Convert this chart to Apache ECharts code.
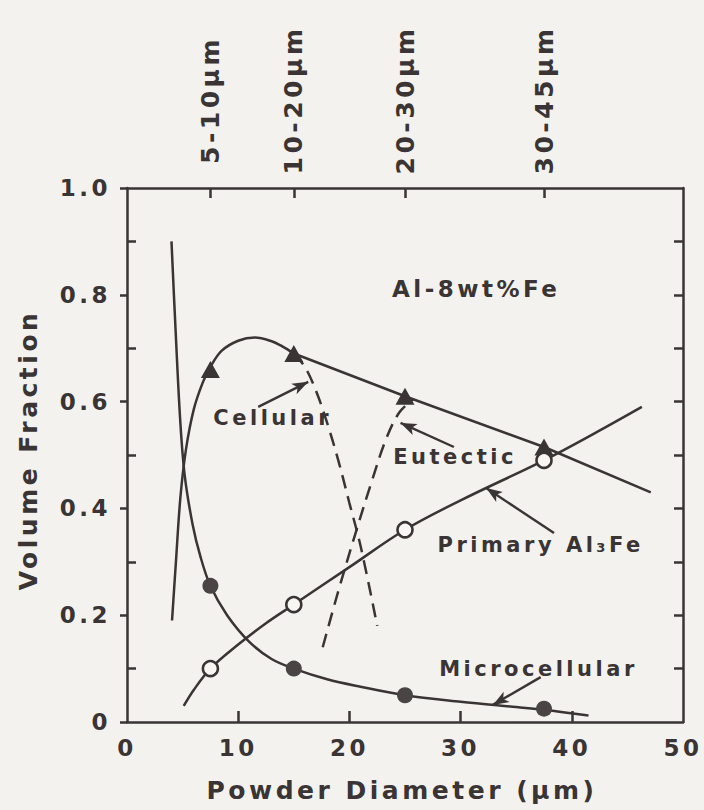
<!DOCTYPE html>
<html>
<head>
<meta charset="utf-8">
<script src="https://cdn.jsdelivr.net/npm/echarts@6/dist/echarts.min.js"></script>
<style>
  html, body { margin: 0; padding: 0; background: #f3f2ee; }
  #chart { width: 704px; height: 810px; }
  /* spaced-out lettering used throughout the figure */
  #chart text { letter-spacing: 3.5px; }
</style>
</head>
<body>
<div id="chart"></div>
<script>
// Powder size classes (top axis), placed at their mean diameter
const sizeClassDiameter = [7.5, 15, 25, 37.5];
const sizeClassLabels = ['5-10µm', '10-20µm', '20-30µm', '30-45µm'];

// Measured volume fractions for each size class
const cellularEutecticTotal = [0.66, 0.69, 0.61, 0.515]; // triangles
const primaryAl3Fe = [0.10, 0.22, 0.36, 0.49];           // open circles
const microcellular = [0.255, 0.10, 0.05, 0.025];        // filled circles

// Trend curves, [diameter µm, volume fraction]
const microCurve = [
  [4.0, 0.90], [4.4, 0.72], [4.8, 0.56], [5.2, 0.46], [5.9, 0.37],
  [6.6, 0.31], [7.5, 0.255], [9, 0.20], [11, 0.15], [13, 0.118],
  [15, 0.10], [18, 0.08], [21, 0.066], [25, 0.05], [30, 0.038],
  [35, 0.028], [37.5, 0.023], [41.5, 0.012]
];
const cellularCurve = [
  [4.05, 0.19], [4.4, 0.30], [4.8, 0.42], [5.3, 0.51], [6.0, 0.585],
  [6.8, 0.635], [7.5, 0.665], [8.5, 0.695], [10, 0.714], [11.5, 0.72],
  [13, 0.713], [14, 0.703], [15, 0.69]
];
const cellularDrop = [
  [15, 0.69], [16, 0.665], [17, 0.62], [18, 0.56], [19, 0.49],
  [20, 0.41], [21, 0.33], [22.5, 0.18]
];
const eutecticRise = [
  [17.6, 0.14], [19, 0.245], [20.5, 0.35], [22, 0.45], [23.3, 0.53],
  [24.5, 0.58], [25.8, 0.605]
];
const primaryCurve = [
  [5.1, 0.03], [6, 0.06], [7.5, 0.10], [10, 0.145], [12.5, 0.185],
  [15, 0.22], [20, 0.29], [25, 0.36], [30, 0.415], [37.5, 0.49],
  [42, 0.54], [46.3, 0.59]
];
const totalLine = [[15, 0.69], [25, 0.61], [37.5, 0.515], [47.1, 0.43]];

// Axis ticks
const xTicks = [0, 10, 20, 30, 40, 50];
const xInnerTicks = [10, 20, 30, 40];
const yOddTicks = [0.1, 0.3, 0.5, 0.7, 0.9];
const yAllTicks = [0.1, 0.2, 0.3, 0.4, 0.5, 0.6, 0.7, 0.8, 0.9];

// Annotations
const noteLabels = ['Al-8wt%Fe', 'Cellular', 'Eutectic', 'Primary Al₃Fe', 'Microcellular'];
const notePos = [[31.4, 0.81], [13.1, 0.57], [29.5, 0.496], [37.2, 0.331], [37.0, 0.10]];
const arrowFrom = [[11.8, 0.59], [29.4, 0.515], [38.4, 0.354], [37.2, 0.084]];
const arrowTo = [[16.3, 0.637], [24.6, 0.56], [32.3, 0.438], [32.9, 0.032]];

const INK = '#3a3434';
const FONT = 'DejaVu Sans';

const chart = echarts.init(document.getElementById('chart'), null, { renderer: 'svg' });

const curve = (name, data, dashed) => ({
  name, type: 'line', data, smooth: 0.35, showSymbol: false, symbol: 'none',
  xAxisIndex: 0, yAxisIndex: 0, silent: true, z: 2,
  lineStyle: { color: INK, width: 2.5, type: dashed ? [14, 8] : 'solid' }
});

chart.setOption({
  animation: false,
  backgroundColor: '#f3f2ee',
  grid: { left: 127, right: 21, top: 188, bottom: 88 },
  xAxis: [
    {
      type: 'value', position: 'bottom', min: 0, max: 50, interval: 10,
      axisLine: { show: true, onZero: false, lineStyle: { color: INK, width: 2.5 } },
      axisTick: { show: true, inside: true, length: 11, customValues: xInnerTicks,
                  lineStyle: { color: INK, width: 2.5 } },
      axisLabel: { customValues: xTicks, margin: 14, color: INK,
                   fontFamily: FONT, fontWeight: 'bold', fontSize: 23 },
      splitLine: { show: false }
    },
    {
      type: 'value', position: 'top', min: 0, max: 50,
      axisLine: { show: true, onZero: false, lineStyle: { color: INK, width: 2.5 } },
      axisTick: { show: true, inside: true, length: 10, customValues: sizeClassDiameter,
                  lineStyle: { color: INK, width: 2.5 } },
      axisLabel: {
        customValues: sizeClassDiameter, rotate: -90, margin: 88,
        align: 'center', verticalAlign: 'middle',
        formatter: v => sizeClassLabels[sizeClassDiameter.indexOf(v)],
        color: INK, fontFamily: FONT, fontWeight: 'bold', fontSize: 25
      },
      splitLine: { show: false }
    }
  ],
  yAxis: [
    {
      type: 'value', position: 'left', min: 0, max: 1, interval: 0.2,
      axisLine: { show: true, onZero: false, lineStyle: { color: INK, width: 2.5 } },
      axisTick: { show: true, inside: false, length: 7, lineStyle: { color: INK, width: 2.5 } },
      axisLabel: { margin: 16, color: INK, fontFamily: FONT, fontWeight: 'bold', fontSize: 23,
                   formatter: v => (v === 0 ? '0' : v.toFixed(1)) },
      splitLine: { show: false }
    },
    {
      type: 'value', position: 'left', min: 0, max: 1,
      axisLine: { show: false },
      axisTick: { show: true, inside: true, length: 9, customValues: yOddTicks,
                  lineStyle: { color: INK, width: 2.5 } },
      axisLabel: { show: false },
      splitLine: { show: false }
    },
    {
      type: 'value', position: 'right', min: 0, max: 1,
      axisLine: { show: true, onZero: false, lineStyle: { color: INK, width: 2.5 } },
      axisTick: { show: true, inside: true, length: 9, customValues: yAllTicks,
                  lineStyle: { color: INK, width: 2.5 } },
      axisLabel: { show: false },
      splitLine: { show: false }
    }
  ],
  graphic: [
    {
      type: 'text', x: 402, y: 790,
      style: { text: 'Powder Diameter (µm)', fill: INK, font: 'bold 25px "DejaVu Sans"',
               align: 'center', verticalAlign: 'middle' }
    },
    {
      type: 'text', x: 28, y: 450, rotation: Math.PI / 2,
      style: { text: 'Volume Fraction', fill: INK, font: 'bold 25px "DejaVu Sans"',
               align: 'center', verticalAlign: 'middle' }
    }
  ],
  series: [
    curve('Microcellular trend', microCurve, false),
    curve('Cellular trend', cellularCurve, false),
    curve('Cellular decline', cellularDrop, true),
    curve('Eutectic rise', eutecticRise, true),
    curve('Primary Al3Fe trend', primaryCurve, false),
    {
      name: 'Cellular + eutectic', type: 'line', data: totalLine, smooth: false,
      showSymbol: false, symbol: 'none', silent: true, z: 2,
      lineStyle: { color: INK, width: 2.5 }
    },
    {
      name: 'Triangles', type: 'scatter', z: 4, silent: true,
      data: sizeClassDiameter.map((d, i) => [d, cellularEutecticTotal[i]]),
      symbol: 'triangle', symbolSize: [19, 17],
      itemStyle: { color: INK, opacity: 1 }
    },
    {
      name: 'Primary Al3Fe', type: 'scatter', z: 4, silent: true,
      data: sizeClassDiameter.map((d, i) => [d, primaryAl3Fe[i]]),
      symbol: 'circle', symbolSize: 15,
      itemStyle: { color: '#f7f6f2', borderColor: INK, borderWidth: 2.6, opacity: 1 }
    },
    {
      name: 'Microcellular', type: 'scatter', z: 4, silent: true,
      data: sizeClassDiameter.map((d, i) => [d, microcellular[i]]),
      symbol: 'circle', symbolSize: 16,
      itemStyle: { color: '#4a4444', opacity: 1 }
    },
    {
      name: 'Notes', type: 'scatter', z: 5, silent: true,
      data: notePos.map((p, i) => ({
        value: p, name: noteLabels[i],
        label: i === 0 ? { fontSize: 23 } : undefined
      })),
      symbolSize: 0,
      itemStyle: { opacity: 1 },
      label: { show: true, position: 'inside', formatter: '{b}', color: INK, opacity: 1,
               textBorderWidth: 0, fontFamily: FONT, fontWeight: 'bold', fontSize: 21 },
      markLine: {
        silent: true, animation: false,
        symbol: ['none', 'arrow'], symbolSize: [9, 16],
        label: { show: false },
        lineStyle: { color: INK, width: 2.4, type: 'solid', opacity: 1 },
        data: arrowFrom.map((f, i) => [{ coord: f }, { coord: arrowTo[i] }])
      }
    }
  ]
});
</script>
</body>
</html>
